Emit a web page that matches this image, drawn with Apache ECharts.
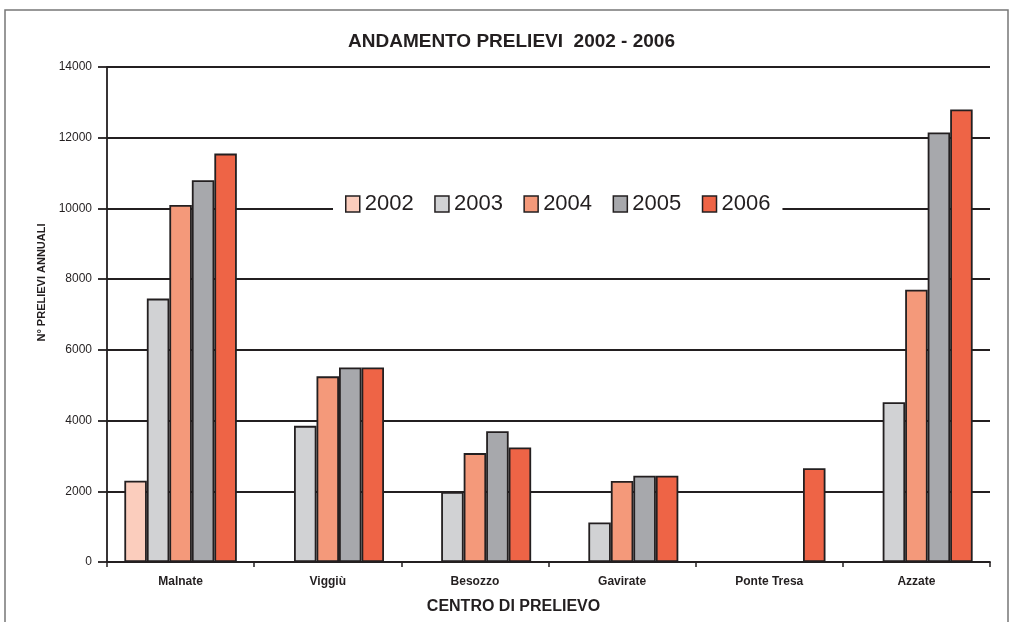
<!DOCTYPE html>
<html>
<head>
<meta charset="utf-8">
<script src="https://cdn.jsdelivr.net/npm/echarts@6/dist/echarts.min.js"></script>
<style>
html,body{margin:0;padding:0;background:#fff;}
#main{width:1013px;height:622px;}
</style>
</head>
<body>
<div id="main"></div>
<script>
const categories = ['Malnate', 'Viggiù', 'Besozzo', 'Gavirate', 'Ponte Tresa', 'Azzate'];
const years = ['2002', '2003', '2004', '2005', '2006'];
const v2002 = [2300, null, null, null, null, null];
const v2003 = [7450, 3850, 1980, 1120, null, 4520];
const v2004 = [10100, 5250, 3080, 2290, null, 7700];
const v2005 = [10800, 5500, 3700, 2440, null, 12150];
const v2006 = [11550, 5500, 3240, 2440, 2650, 12800];
const yTicks = [0, 2000, 4000, 6000, 8000, 10000, 12000, 14000];

const seriesValues = [v2002, v2003, v2004, v2005, v2006];
const colors = ['#FBCDBD', '#D1D2D4', '#F4997A', '#A7A8AC', '#EE6446'];
const dark = '#231F20';

const chart = echarts.init(document.getElementById('main'));
chart.setOption({
  backgroundColor: '#fff',
  animation: false,
  title: {
    text: 'ANDAMENTO PRELIEVI  2002 - 2006',
    left: 348,
    top: 32,
    padding: 0,
    textStyle: { fontFamily: 'Liberation Sans', fontWeight: 'bold', fontSize: 19, color: dark }
  },
  legend: {
    data: years,
    top: 189,
    left: 333,
    icon: 'rect',
    itemWidth: 14,
    itemHeight: 16,
    itemGap: 20.5,
    padding: [4, 12, 4, 12],
    backgroundColor: '#fff',
    itemStyle: { borderColor: dark, borderWidth: 1.5 },
    textStyle: { fontFamily: 'Liberation Sans', fontSize: 22, color: dark }
  },
  grid: { left: 107, right: 23, top: 67, bottom: 60, containLabel: false },
  xAxis: {
    type: 'category',
    data: categories,
    name: 'CENTRO DI PRELIEVO',
    nameLocation: 'middle',
    nameGap: 37,
    nameTextStyle: { fontFamily: 'Liberation Sans', fontWeight: 'bold', fontSize: 16, color: dark, padding: [0, 70, 0, 0] },
    axisLine: { lineStyle: { color: dark, width: 1.8 } },
    axisTick: { show: true, length: 5, lineStyle: { color: dark, width: 1.5 } },
    axisLabel: { fontFamily: 'Liberation Sans', fontWeight: 'bold', fontSize: 12, color: dark, margin: 14 }
  },
  yAxis: {
    type: 'value',
    min: yTicks[0],
    max: yTicks[yTicks.length - 1],
    interval: 2000,
    name: 'N° PRELIEVI ANNUALI',
    nameLocation: 'middle',
    nameGap: 52,
    nameTextStyle: { fontFamily: 'Liberation Sans', fontWeight: 'bold', fontSize: 11, color: dark, padding: [0, 0, 0, 64] },
    axisLine: { show: true, lineStyle: { color: dark, width: 1.8 } },
    axisTick: { show: true, length: 9, lineStyle: { color: dark, width: 1.8 } },
    axisLabel: { fontFamily: 'Liberation Sans', fontSize: 12, color: dark, margin: 15, formatter: v => String(v) },
    splitLine: { lineStyle: { color: dark, width: 1.8 } }
  },
  graphic: [{
    type: 'rect',
    shape: { x: 5, y: 10, width: 1003, height: 640 },
    style: { fill: null, stroke: '#777', lineWidth: 1.5 },
    z: -1
  }],
  series: years.map((y, i) => ({
    name: y,
    type: 'bar',
    data: seriesValues[i],
    barWidth: 22.5,
    barGap: '0%',
    itemStyle: { color: colors[i], borderColor: dark, borderWidth: 1.8 }
  }))
});
</script>
</body>
</html>
